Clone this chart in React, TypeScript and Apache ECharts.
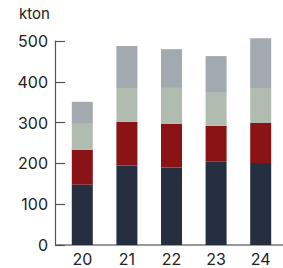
import React, { useEffect, useRef } from "react";
import * as echarts from "echarts";

const categories = ["20", "21", "22", "23", "24"];
const seriesA = [148, 195, 190, 204, 201];
const seriesB = [85, 107, 107, 88, 98];
const seriesC = [64, 83, 88, 81, 86];
const seriesD = [54, 103, 95, 90, 122];
const unitLabel = "kton";

const colors = ["#252f3f", "#8a1415", "#b1bcb0", "#a2a9b1"];
const FONT = "Inter, 'Noto Sans', sans-serif";

export default function App() {
  const ref = useRef<HTMLDivElement>(null);
  useEffect(() => {
    if (!ref.current) return;
    const chart = echarts.init(ref.current, undefined, { renderer: "svg" });
    const mk = (data: number[], i: number) => ({
      type: "bar",
      stack: "total",
      data,
      barWidth: 21,
      clip: false,
      itemStyle: { color: colors[i] },
      emphasis: { disabled: true },
    });
    chart.setOption({
      animation: false,
      grid: { left: 60, top: 41, width: 226, height: 204 },
      xAxis: {
        type: "category",
        data: categories,
        axisLine: { show: true, lineStyle: { color: "#777777", width: 1.5 } },
        axisTick: { show: false },
        axisLabel: { color: "#222222", fontSize: 16, fontFamily: FONT, margin: 6 },
      },
      yAxis: {
        type: "value",
        min: 0,
        max: 500,
        interval: 100,
        offset: 5,
        axisLine: { show: true, lineStyle: { color: "#555555", width: 1.2 } },
        axisTick: { show: true, inside: true, length: 10, lineStyle: { color: "#555555", width: 1.2 } },
        splitLine: { show: false },
        axisLabel: { color: "#222222", fontSize: 16, fontFamily: FONT, margin: 7 },
      },
      graphic: [
        {
          type: "text",
          left: 19,
          top: 6,
          style: { text: unitLabel, fontSize: 15, fontFamily: FONT, fill: "#222222" },
        },
        {
          type: "line",
          shape: { x1: 55, y1: 245, x2: 61, y2: 245 },
          style: { stroke: "#777777", lineWidth: 1.5 },
        },
      ],
      series: [mk(seriesA, 0), mk(seriesB, 1), mk(seriesC, 2), mk(seriesD, 3)],
    });
    return () => chart.dispose();
  }, []);
  return (
    <div
      ref={ref}
      style={{ position: "absolute", left: 0, top: 0, width: 283, height: 268 }}
    />
  );
}
